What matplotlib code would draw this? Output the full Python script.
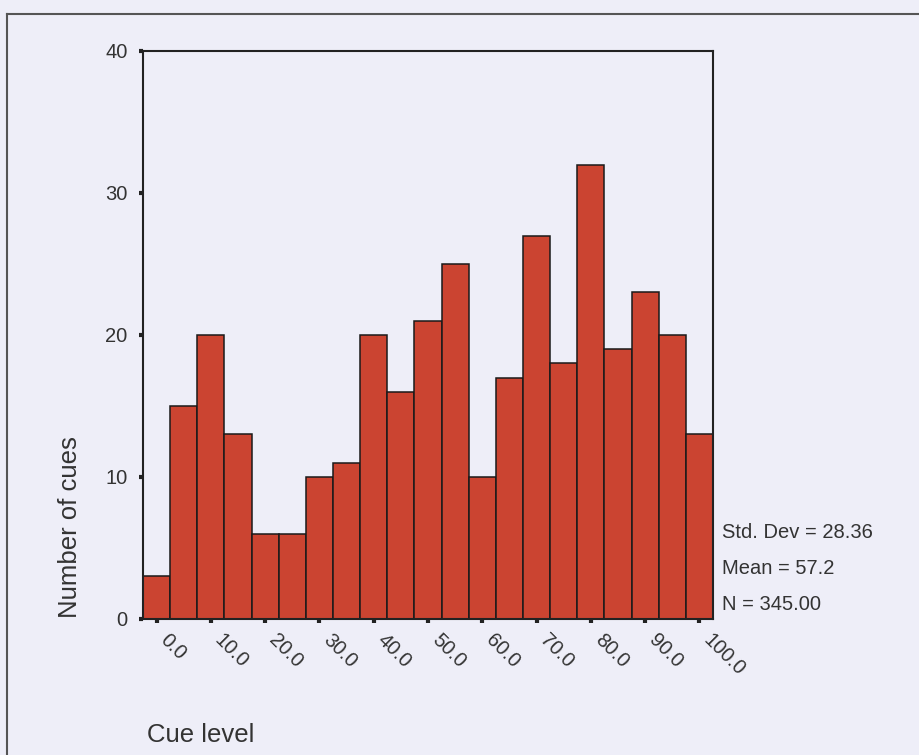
import numpy as np
import matplotlib
matplotlib.use("Agg")
import matplotlib.pyplot as plt
from matplotlib.lines import Line2D

plt.rcParams['font.family'] = ['Liberation Sans', 'DejaVu Sans']

# bin centres (width 5) and counts per bin
bin_centres = [0, 5, 10, 15, 20, 25, 30, 35, 40, 45, 50,
               55, 60, 65, 70, 75, 80, 85, 90, 95, 100]
counts = [3, 15, 20, 13, 6, 6, 10, 11, 20, 16, 21,
          25, 10, 17, 27, 18, 32, 19, 23, 20, 13]
x_ticks = [0, 10, 20, 30, 40, 50, 60, 70, 80, 90, 100]
x_ticklabels = ["0.0", "10.0", "20.0", "30.0", "40.0", "50.0",
                "60.0", "70.0", "80.0", "90.0", "100.0"]
y_ticks = [0, 10, 20, 30, 40]
stats = ["Std. Dev = 28.36", "Mean = 57.2", "N = 345.00"]

bg = '#eeeef8'
bar_col = '#cb4431'
txt = '#333333'
W, H = 919, 755

fig = plt.figure(figsize=(W / 100, H / 100), dpi=100, facecolor=bg)
ax = fig.add_axes([143 / W, 1 - 619 / H, (713 - 143) / W, (619 - 51) / H])
ax.set_facecolor(bg)

ax.bar(bin_centres, counts, width=5, color=bar_col, edgecolor='#1a1a1a',
       linewidth=1.1, zorder=2)

ax.set_xlim(-2.5, 102.5)
ax.set_ylim(0, 40)
ax.set_yticks(y_ticks)
ax.set_xticks(x_ticks)
ax.set_xticklabels(x_ticklabels, rotation=-45, ha='left', va='bottom',
                   rotation_mode='anchor', fontsize=14.5, color=txt)
ax.tick_params(axis='x', direction='out', length=3, width=3, pad=15,
               color='#222222')
ax.tick_params(axis='y', direction='out', length=3, width=3, pad=8,
               color='#222222', labelsize=14.5, labelcolor=txt)
for s in ax.spines.values():
    s.set_linewidth(1.5)
    s.set_color('#222222')

fig.text(70 / W, 1 - 527 / H, "Number of cues", rotation=90, ha='center',
         va='center', fontsize=18.5, color=txt)
fig.text(147 / W, 1 - 735 / H, "Cue level", ha='left', va='center',
         fontsize=18.5, color=txt)

for i, s in enumerate(stats):
    fig.text(722 / W, 1 - (532 + 36 * i) / H, s, ha='left', va='center',
             fontsize=14.5, color=txt)

# outer frame, open on the right and bottom
fig.add_artist(Line2D([7 / W, 7 / W], [0, 1 - 14 / H], color='#555555',
                      lw=1.5, transform=fig.transFigure))
fig.add_artist(Line2D([7 / W, 1], [1 - 14 / H, 1 - 14 / H], color='#555555',
                      lw=1.5, transform=fig.transFigure))

fig.savefig("out.png", dpi=100, facecolor=bg)
